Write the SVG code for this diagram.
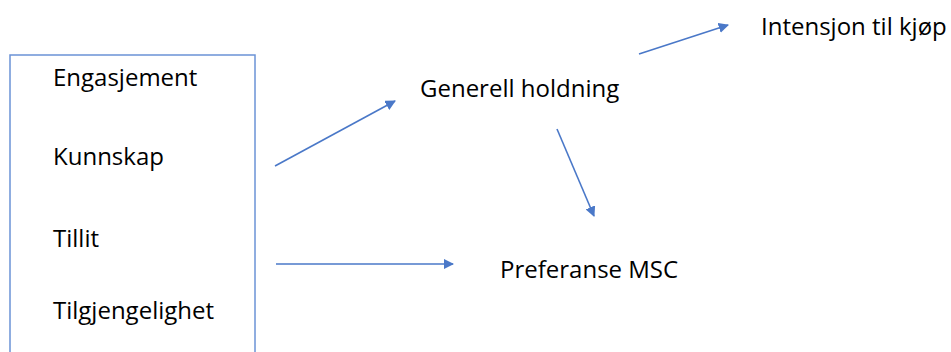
<svg xmlns="http://www.w3.org/2000/svg" width="951" height="352" viewBox="0 0 951 352">
  <style>
    .lbl { font-family: "Open Sans", "Liberation Sans", sans-serif; font-size: 24px; fill: #000; }
    .box { fill: none; stroke: #6b93d6; stroke-width: 1.5; }
    .edge { stroke: #4a78c8; stroke-width: 1.6; fill: none; marker-end: url(#arrow); }
  </style>
  <defs>
    <marker id="arrow" viewBox="0 0 10 10" refX="9" refY="5" markerWidth="6.5" markerHeight="6.5" markerUnits="strokeWidth" orient="auto">
      <path d="M0,0 L10,5 L0,10 z" fill="#4a78c8"/>
    </marker>
  </defs>
  <rect width="951" height="352" fill="#fff"/>

  <g id="factors">
    <rect class="box" x="10" y="55" width="245" height="310"/>
    <text class="lbl" x="53" y="86">Engasjement</text>
    <text class="lbl" x="53" y="165">Kunnskap</text>
    <text class="lbl" x="53" y="247">Tillit</text>
    <text class="lbl" x="53" y="319">Tilgjengelighet</text>
  </g>

  <g id="generell-holdning">
    <text class="lbl" x="420" y="97">Generell holdning</text>
  </g>

  <g id="intensjon">
    <text class="lbl" x="761" y="35">Intensjon til kjøp</text>
  </g>

  <g id="preferanse">
    <text class="lbl" x="500" y="278">Preferanse MSC</text>
  </g>

  <g id="connectors">
    <line class="edge" x1="275" y1="166" x2="395" y2="101"/>
    <line class="edge" x1="639" y1="54" x2="728" y2="25"/>
    <line class="edge" x1="557" y1="129" x2="594" y2="216"/>
    <line class="edge" x1="276" y1="264" x2="453" y2="264"/>
  </g>
</svg>
